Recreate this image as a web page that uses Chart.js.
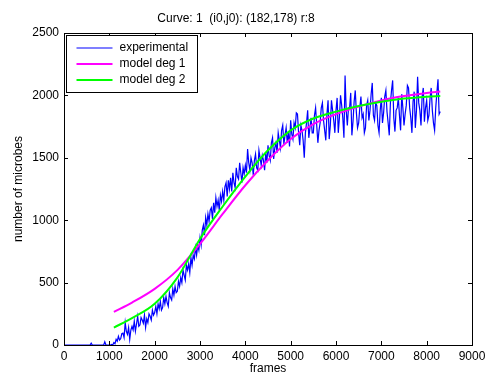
<!DOCTYPE html>
<html>
<head>
<meta charset="utf-8">
<script src="https://cdn.jsdelivr.net/npm/chart.js@4/dist/chart.umd.min.js"></script>
<style>
  body { margin: 0; background: #fff; }
  #wrap { width: 492px; height: 376px; }
</style>
</head>
<body>
<div id="wrap"><canvas id="curva" width="492" height="376"></canvas></div>
<script>
// dados
const tituloGrafico = 'Curve: 1  (i0,j0): (182,178) r:8';
const xTicks = [0, 1000, 2000, 3000, 4000, 5000, 6000, 7000, 8000, 9000];
const yTicks = [0, 500, 1000, 1500, 2000, 2500];

// experimental: um valor a cada 25 frames, começando em 0
const expInicio = 0;
const expPasso = 25;
const expValores = [
    0, 0, 0, 0, 0, 0, 0, 0, 0, 0, 0, 0, 0, 0, 0, 0, 0, 0, 0, 0,
    0, 0, 0, 0, 15, 0, 0, 0, 0, 0, 0, 0, 0, 0, 0, 0, 25, 0, 0, 0,
    0, 0, 5, 0, 20, 10, 45, 30, 70, 40, 50, 90, 95, 60, 180, 110, 85, 140, 45, 120,
    150, 120, 190, 110, 170, 230, 150, 160, 220, 200, 175, 240, 140, 210, 180, 250, 230, 200, 280, 240,
    260, 310, 250, 330, 290, 350, 280, 300, 380, 330, 390, 340, 310, 420, 380, 360, 450, 400, 470, 420,
    430, 510, 470, 540, 500, 600, 560, 520, 640, 600, 650, 580, 700, 640, 720, 690, 780, 720, 800, 760,
    860, 800, 920, 960, 880, 1020, 960, 1050, 990, 1080, 1100, 1010, 1140, 1060, 1180, 1110, 1160, 1080, 1200, 1150,
    1230, 1160, 1270, 1300, 1190, 1320, 1250, 1340, 1230, 1380, 1300, 1260, 1420, 1350, 1330, 1460, 1380, 1300, 1420, 1370,
    1440, 1380, 1570, 1460, 1400, 1500, 1460, 1360, 1480, 1530, 1420, 1400, 1560, 1500, 1440, 1520, 1480, 1400, 1540, 1460,
    1600, 1520, 1480, 1620, 1660, 1490, 1580, 1620, 1540, 1700, 1640, 1580, 1720, 1760, 1610, 1680, 1740, 1620, 1700, 1590,
    1800, 1690, 1650, 1780, 1740, 1860, 1850, 1700, 1600, 1760, 1720, 1640, 1500, 1700, 1780, 1880, 1660, 1740, 1820, 1700,
    1700, 1840, 1900, 1760, 1620, 1720, 1780, 1900, 1940, 1800, 1720, 1640, 1850, 1960, 1650, 1760, 1960, 1880, 1800, 1700,
    1880, 1980, 1700, 1820, 2000, 1920, 1820, 1660, 2160, 1880, 1760, 1900, 1900, 2020, 1680, 1790, 1950, 2040, 1860, 1740,
    1780, 1900, 1990, 1820, 1850, 1700, 1740, 1920, 1960, 1800, 1880, 2010, 2100, 1840, 1800, 1940, 1920, 1760, 1700, 1880,
    1980, 1780, 1860, 1990, 2040, 1870, 1780, 1680, 1940, 2040, 2120, 1820, 1710, 1880, 1900, 1980, 1840, 1720, 2010, 1900,
    1760, 1850, 1920, 2080, 2060, 1900, 1820, 1700, 1950, 2030, 1740, 1880, 2150, 1940, 1880, 1760, 1990, 2060, 1790, 1900,
    1960, 1800, 1840, 1980, 2060, 1880, 1780, 1720, 1900, 2020, 2130, 1850, 1870
];

// modelos
const modeloFrames = [1100, 1500, 2000, 2500, 3000, 3500, 4000, 4500, 5000, 5500, 6000, 6500, 7000, 7500, 8000, 8300];
const modeloDeg1 = [265, 340, 450, 600, 810, 1050, 1280, 1480, 1650, 1770, 1850, 1910, 1960, 1995, 2020, 2032];
const modeloDeg2 = [140, 215, 330, 540, 850, 1110, 1350, 1560, 1720, 1815, 1870, 1915, 1950, 1975, 1990, 1995];

const fonte = "'Liberation Sans', Arial, sans-serif";

function pontos(xs, ys) {
    return ys.map((v, i) => ({ x: xs[i], y: v }));
}
const expPontos = expValores.map((v, i) => ({ x: expInicio + i * expPasso, y: v }));

// caixa do eixo com ticks para dentro (estilo matlab)
const moldura = {
    id: 'moldura',
    afterDatasetsDraw(chart) {
        const { ctx, chartArea: a, scales } = chart;
        ctx.save();
        ctx.strokeStyle = '#000';
        ctx.lineWidth = 1;
        ctx.beginPath();
        xTicks.forEach(t => {
            const px = Math.round(scales.x.getPixelForValue(t)) + 0.5;
            ctx.moveTo(px, a.bottom); ctx.lineTo(px, a.bottom - 4);
            ctx.moveTo(px, a.top); ctx.lineTo(px, a.top + 4);
        });
        yTicks.forEach(t => {
            const py = Math.round(scales.y.getPixelForValue(t)) + 0.5;
            ctx.moveTo(a.left, py); ctx.lineTo(a.left + 4, py);
            ctx.moveTo(a.right, py); ctx.lineTo(a.right - 4, py);
        });
        ctx.stroke();
        ctx.strokeRect(Math.round(a.left) + 0.5, Math.round(a.top) + 0.5,
            Math.round(a.right - a.left), Math.round(a.bottom - a.top));
        ctx.restore();
    }
};

// legenda desenhada dentro da área do gráfico
const legendaBox = {
    id: 'legendaBox',
    afterDraw(chart) {
        const { ctx, chartArea: a } = chart;
        const x0 = Math.round(a.left) + 2.5, y0 = Math.round(a.top) + 2.5;
        const w = 131, h = 57;
        ctx.save();
        ctx.fillStyle = '#fff';
        ctx.fillRect(x0, y0, w, h);
        ctx.strokeStyle = '#000';
        ctx.lineWidth = 1;
        ctx.strokeRect(x0, y0, w, h);
        ctx.font = '12px ' + fonte;
        ctx.textBaseline = 'middle';
        ctx.textAlign = 'left';
        chart.data.datasets.forEach((ds, i) => {
            const y = y0 + 12.5 + i * 16;
            ctx.strokeStyle = ds.borderColor;
            ctx.lineWidth = ds.borderWidth;
            ctx.beginPath();
            ctx.moveTo(x0 + 10, y);
            ctx.lineTo(x0 + 46, y);
            ctx.stroke();
            ctx.fillStyle = '#000';
            ctx.fillText(ds.label, x0 + 53, y);
        });
        ctx.restore();
    }
};

const ctxCurva = document.getElementById('curva').getContext('2d');
const grafico = new Chart(ctxCurva, {
    type: 'line',
    data: {
        datasets: [{
            label: 'experimental',
            data: expPontos,
            borderColor: '#0000ff',
            borderWidth: 1.2,
            pointRadius: 0,
            tension: 0,
            order: 3
        }, {
            label: 'model deg 1',
            data: pontos(modeloFrames, modeloDeg1),
            borderColor: '#ff00ff',
            borderWidth: 2,
            pointRadius: 0,
            cubicInterpolationMode: 'monotone',
            order: 2
        }, {
            label: 'model deg 2',
            data: pontos(modeloFrames, modeloDeg2),
            borderColor: '#00ff00',
            borderWidth: 2,
            pointRadius: 0,
            cubicInterpolationMode: 'monotone',
            order: 1
        }]
    },
    options: {
        responsive: false,
        animation: false,
        layout: { padding: { top: 0, right: 20, bottom: 0, left: 0 } },
        scales: {
            x: {
                type: 'linear',
                min: 0,
                max: 9000,
                afterBuildTicks: s => { s.ticks = xTicks.map(v => ({ value: v })); },
                afterFit: s => { s.height = 31; },
                grid: { display: false, drawTicks: false },
                border: { display: false },
                ticks: { color: '#000', padding: 4, maxRotation: 0, callback: v => String(v), font: { family: fonte, size: 12 } },
                title: { display: true, text: 'frames', color: '#000', padding: { top: 0, bottom: 0 }, font: { family: fonte, size: 12 } }
            },
            y: {
                type: 'linear',
                min: 0,
                max: 2500,
                afterBuildTicks: s => { s.ticks = yTicks.map(v => ({ value: v })); },
                afterFit: s => { s.width = 64; },
                grid: { display: false, drawTicks: false },
                border: { display: false },
                ticks: { color: '#000', padding: 5, callback: v => String(v), font: { family: fonte, size: 12 } },
                title: { display: true, text: 'number of microbes', color: '#000', padding: { top: 11, bottom: 0 }, font: { family: fonte, size: 12 } }
            }
        },
        plugins: {
            legend: { display: false },
            tooltip: { enabled: false },
            title: {
                display: true,
                text: tituloGrafico,
                color: '#000',
                font: { family: fonte, size: 12, weight: 'normal' },
                padding: { top: 11, bottom: 7.6 }
            }
        }
    },
    plugins: [moldura, legendaBox]
});
</script>
</body>
</html>
